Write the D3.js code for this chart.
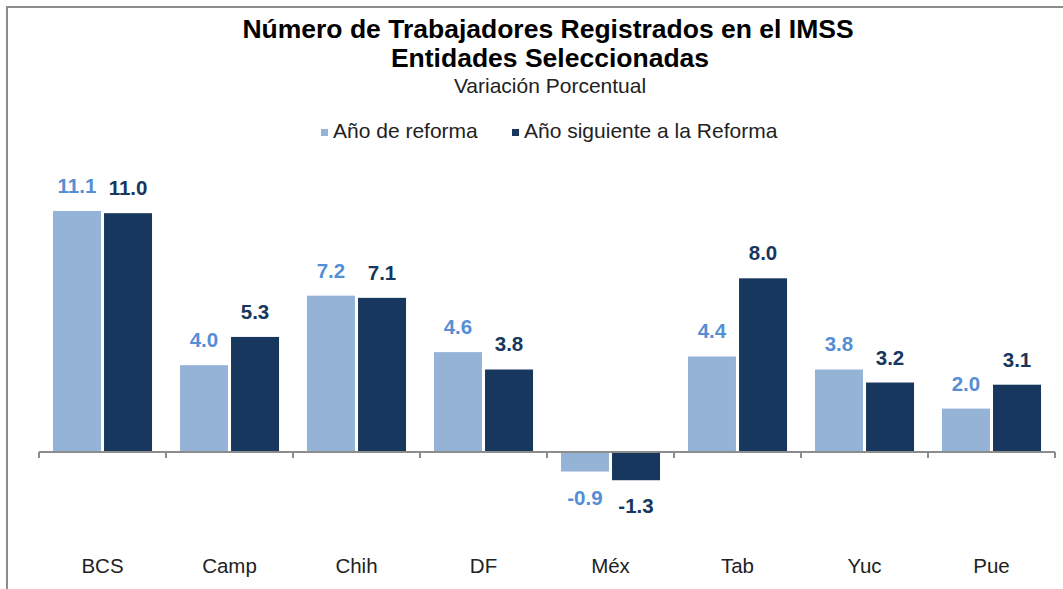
<!DOCTYPE html>
<html>
<head>
<meta charset="utf-8">
<script src="https://cdn.jsdelivr.net/npm/d3@7"></script>
<style>
  body { margin: 0; background: #fff; }
  svg { display: block; font-family: "Liberation Sans", Arial, sans-serif; }
</style>
</head>
<body>
<div class="chart"></div>
<script>
const categories = ['BCS', 'Camp', 'Chih', 'DF', 'Méx', 'Tab', 'Yuc', 'Pue'];
const seriesNames = ['Año de reforma', 'Año siguiente a la Reforma'];
const anoReforma = [11.1, 4.0, 7.2, 4.6, -0.9, 4.4, 3.8, 2.0];
const anoSiguiente = [11.0, 5.3, 7.1, 3.8, -1.3, 8.0, 3.2, 3.1];

const WIDTH = 1063, HEIGHT = 589;
const barColors = ['#95b3d7', '#17375e'];
const labelColors = ['#558ed5', '#17375e'];

const svg = d3.select('.chart').append('svg')
  .attr('width', WIDTH)
  .attr('height', HEIGHT);

// chart area border (only top/left visible in picture)
svg.append('rect')
  .attr('x', 7).attr('y', 7)
  .attr('width', WIDTH + 20).attr('height', HEIGHT + 20)
  .attr('fill', 'none')
  .attr('stroke', '#8c8c8c')
  .attr('stroke-width', 2);

// titles
svg.append('text')
  .attr('x', 548).attr('y', 38)
  .attr('text-anchor', 'middle')
  .style('font-size', '26.5px').style('font-weight', 'bold').style('fill', '#000')
  .text('Número de Trabajadores Registrados en el IMSS');
svg.append('text')
  .attr('x', 550).attr('y', 67)
  .attr('text-anchor', 'middle')
  .style('font-size', '26.5px').style('font-weight', 'bold').style('fill', '#000')
  .text('Entidades Seleccionadas');
svg.append('text')
  .attr('x', 550).attr('y', 93)
  .attr('text-anchor', 'middle')
  .style('font-size', '21px').style('fill', '#222')
  .text('Variación Porcentual');

// legend
const legendX = [321, 512];
seriesNames.forEach((name, i) => {
  const g = svg.append('g').attr('transform', 'translate(' + legendX[i] + ',129)');
  g.append('rect').attr('x', 0).attr('y', 0).attr('width', 7).attr('height', 7).attr('fill', barColors[i]);
  g.append('text').attr('x', 12).attr('y', 9)
    .style('font-size', '21px').style('fill', '#222')
    .text(name);
});

// scales
const x0 = d3.scaleBand()
  .domain(categories)
  .range([39, 1055])
  .paddingInner(0.22)
  .paddingOuter(0.11);
const x1 = d3.scaleBand()
  .domain([0, 1])
  .range([0, x0.bandwidth()])
  .paddingInner(0.06);
const y = d3.scaleLinear()
  .domain([0, 11.1])
  .range([452, 211]);

const rows = categories.map((c, i) => ({ cat: c, vals: [anoReforma[i], anoSiguiente[i]] }));

const groups = svg.selectAll('.grp')
  .data(rows)
  .enter()
  .append('g')
  .attr('transform', d => 'translate(' + x0(d.cat) + ',0)');

groups.selectAll('rect')
  .data(d => d.vals.map((v, k) => ({ v: v, k: k })))
  .enter()
  .append('rect')
  .attr('x', d => x1(d.k))
  .attr('width', x1.bandwidth())
  .attr('y', d => y(Math.max(0, d.v)))
  .attr('height', d => Math.abs(y(d.v) - y(0)))
  .attr('fill', d => barColors[d.k]);

groups.selectAll('.val')
  .data(d => d.vals.map((v, k) => ({ v: v, k: k })))
  .enter()
  .append('text')
  .attr('x', d => x1(d.k) + x1.bandwidth() / 2)
  .attr('y', d => d.v >= 0 ? y(d.v) - 18 : y(d.v) + 33)
  .attr('text-anchor', 'middle')
  .style('font-size', '20.5px')
  .style('font-weight', 'bold')
  .style('fill', d => labelColors[d.k])
  .text(d => d.v.toFixed(1));

// x axis along zero
const step = (1055 - 39) / categories.length;
const tickPos = d3.range(categories.length + 1).map(i => 39 + i * step);
svg.append('line')
  .attr('x1', 39).attr('x2', 1055)
  .attr('y1', y(0)).attr('y2', y(0))
  .attr('stroke', '#8c8c8c').attr('stroke-width', 2);
svg.selectAll('.tick')
  .data(tickPos)
  .enter()
  .append('line')
  .attr('x1', d => d).attr('x2', d => d)
  .attr('y1', y(0)).attr('y2', y(0) + 6)
  .attr('stroke', '#8c8c8c').attr('stroke-width', 2);

svg.selectAll('.catlabel')
  .data(categories)
  .enter()
  .append('text')
  .attr('x', d => x0(d) + x0.bandwidth() / 2)
  .attr('y', 573)
  .attr('text-anchor', 'middle')
  .style('font-size', '20.5px')
  .style('fill', '#222')
  .text(d => d);
</script>
</body>
</html>
